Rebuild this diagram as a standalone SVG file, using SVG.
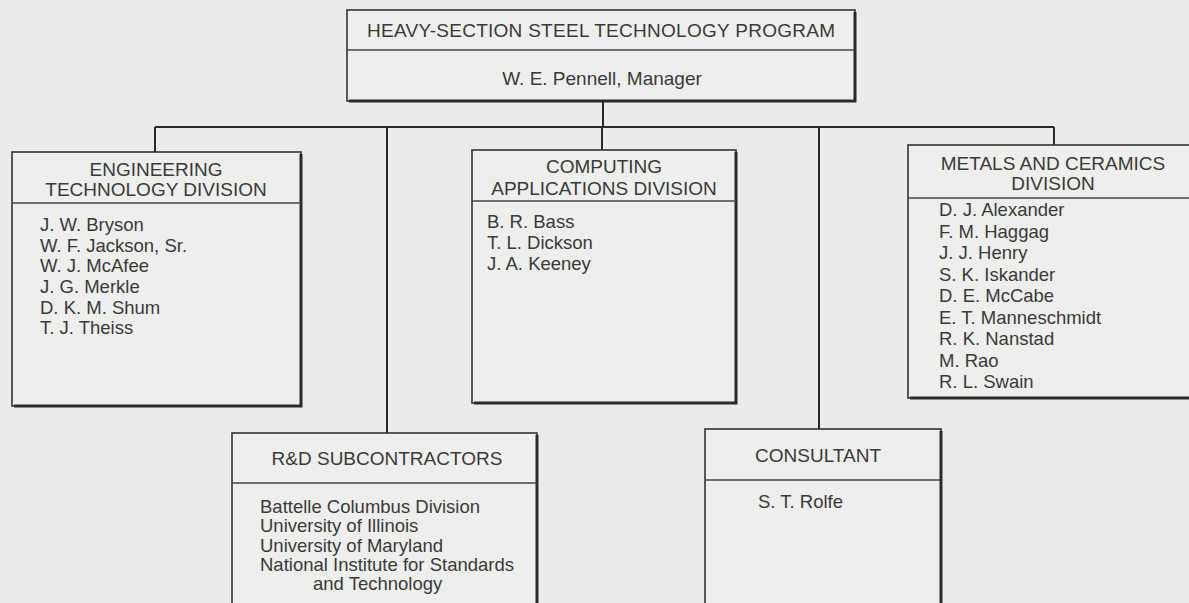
<svg xmlns="http://www.w3.org/2000/svg" width="1189" height="603" viewBox="0 0 1189 603">
<style>
.bg{fill:#ebebe9}
.box{fill:#eeeeec;stroke:#333;stroke-width:1.6}
.sh{fill:none;stroke:#2a2a2a;stroke-width:3}
.div{stroke:#444;stroke-width:1.4}
.con{fill:none;stroke:#2a2a2a;stroke-width:2}
text{font-family:"Liberation Sans",Arial,sans-serif;fill:#3a3a3a}
.h{font-size:19px;text-anchor:middle}
.n{font-size:18.5px}
</style>
<rect class="bg" x="0" y="0" width="1189" height="603"/>
<g id="connectors">
<path class="con" d="M603,101 V127 M155,127 H1054 M155,127 V152 M387,127 V433 M602,127 V150 M819,127 V429 M1054,127 V145"/>
</g>
<g id="program">
<rect class="box" x="347" y="10" width="508" height="91"/>
<path class="sh" d="M855,12 V101 H349"/>
<line class="div" x1="347" y1="50" x2="855" y2="50"/>
<text class="h" x="601" y="37" textLength="468" lengthAdjust="spacing">HEAVY-SECTION STEEL TECHNOLOGY PROGRAM</text>
<text class="h" x="602" y="85">W. E. Pennell, Manager</text>
</g>
<g id="engineering">
<rect class="box" x="12" y="152" width="289" height="254"/>
<path class="sh" d="M301,154 V406 H14"/>
<line class="div" x1="12" y1="203" x2="301" y2="203"/>
<text class="h" x="156" y="176">ENGINEERING</text>
<text class="h" x="156" y="196">TECHNOLOGY DIVISION</text>
<text class="n" x="40" y="231">J. W. Bryson</text>
<text class="n" x="40" y="252">W. F. Jackson, Sr.</text>
<text class="n" x="40" y="272">W. J. McAfee</text>
<text class="n" x="40" y="293">J. G. Merkle</text>
<text class="n" x="40" y="314">D. K. M. Shum</text>
<text class="n" x="40" y="334">T. J. Theiss</text>
</g>
<g id="computing">
<rect class="box" x="472" y="150" width="264" height="253"/>
<path class="sh" d="M736,152 V403 H474"/>
<line class="div" x1="472" y1="201" x2="736" y2="201"/>
<text class="h" x="604" y="173">COMPUTING</text>
<text class="h" x="604" y="195">APPLICATIONS DIVISION</text>
<text class="n" x="487" y="228">B. R. Bass</text>
<text class="n" x="487" y="249">T. L. Dickson</text>
<text class="n" x="487" y="270">J. A. Keeney</text>
</g>
<g id="metals">
<rect class="box" x="908" y="145" width="290" height="253"/>
<path class="sh" d="M910,398 H1198"/>
<line class="div" x1="908" y1="198" x2="1198" y2="198"/>
<text class="h" x="1053" y="170">METALS AND CERAMICS</text>
<text class="h" x="1053" y="190">DIVISION</text>
<text class="n" x="939" y="216">D. J. Alexander</text>
<text class="n" x="939" y="237.5">F. M. Haggag</text>
<text class="n" x="939" y="259">J. J. Henry</text>
<text class="n" x="939" y="280.5">S. K. Iskander</text>
<text class="n" x="939" y="302">D. E. McCabe</text>
<text class="n" x="939" y="323.5">E. T. Manneschmidt</text>
<text class="n" x="939" y="345">R. K. Nanstad</text>
<text class="n" x="939" y="366.5">M. Rao</text>
<text class="n" x="939" y="388">R. L. Swain</text>
</g>
<g id="subcontractors">
<rect class="box" x="232" y="433" width="305" height="180"/>
<path class="sh" d="M537,435 V613"/>
<line class="div" x1="232" y1="483" x2="537" y2="483"/>
<text class="h" x="387" y="465">R&amp;D SUBCONTRACTORS</text>
<text class="n" x="260" y="513">Battelle Columbus Division</text>
<text class="n" x="260" y="532">University of Illinois</text>
<text class="n" x="260" y="552">University of Maryland</text>
<text class="n" x="260" y="571">National Institute for Standards</text>
<text class="n" x="313" y="590">and Technology</text>
</g>
<g id="consultant">
<rect class="box" x="705" y="429" width="236" height="184"/>
<path class="sh" d="M941,431 V613"/>
<line class="div" x1="705" y1="480" x2="941" y2="480"/>
<text class="h" x="818" y="462">CONSULTANT</text>
<text class="n" x="758" y="508">S. T. Rolfe</text>
</g>
</svg>
